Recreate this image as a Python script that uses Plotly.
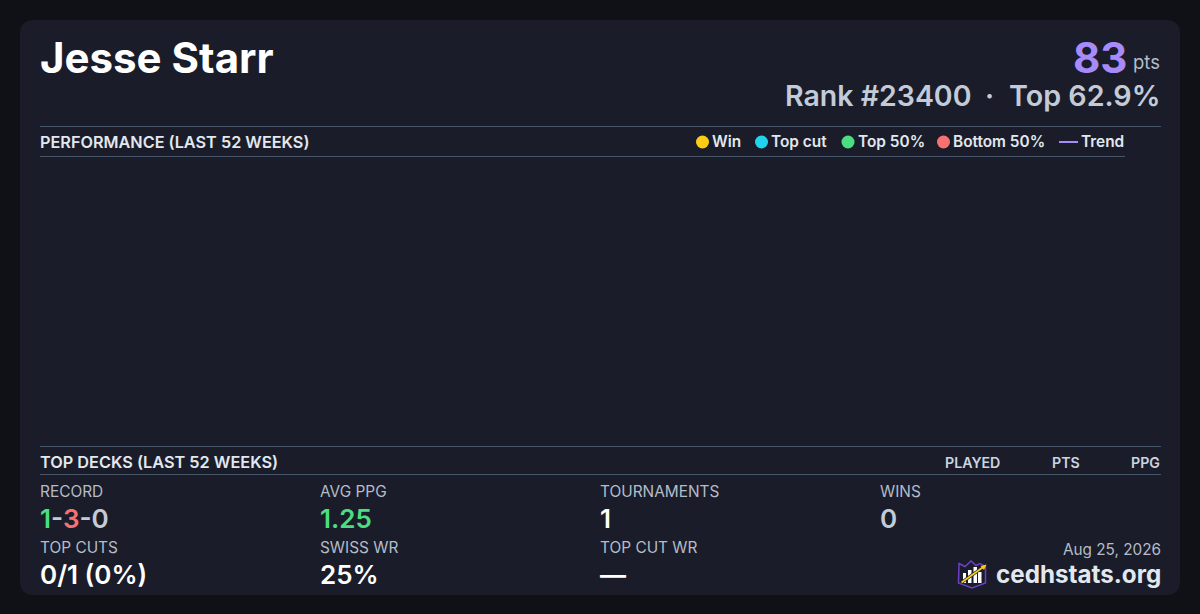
import plotly.graph_objects as go

PLAYER = "Jesse Starr"
POINTS = "83"
RANK_LEFT = "Rank #23400"
RANK_DOT = "·"
RANK_RIGHT = "Top 62.9%"
SECTION_PERF = "PERFORMANCE (LAST 52 WEEKS)"
SECTION_DECKS = "TOP DECKS (LAST 52 WEEKS)"
DECK_COLUMNS = ["PLAYED", "PTS", "PPG"]
DECK_COLUMN_RIGHT = [1000, 1080, 1160]
LEGEND_NAMES = ["Win", "Top cut", "Top 50%", "Bottom 50%"]
LEGEND_COLORS = ["#facc15", "#22d3ee", "#4ade80", "#f87171"]
LEGEND_MARKER_X = [702.5, 761.5, 848, 943.5]
STAT_LABELS = ["RECORD", "AVG PPG", "TOURNAMENTS", "WINS", "TOP CUTS", "SWISS WR", "TOP CUT WR"]
STAT_VALUES = [
    "<span style='color:#4ade80'>1</span>-<span style='color:#f87171'>3</span>-0",
    "1.25", "1", "0", "0/1 (0%)", "25%", "—",
]
STAT_COLORS = ["#c3cbd9", "#4ade80", "#ffffff", "#c3cbd9", "#ffffff", "#ffffff", "#ffffff"]
STAT_X = [40, 320, 600, 880, 40, 320, 600]
STAT_LABEL_Y = [491.5, 491.5, 491.5, 491.5, 547.5, 547.5, 547.5]
STAT_VALUE_Y = [518, 518, 518, 518, 574, 574, 574]
DATE = "Aug 25, 2026"
SITE = "cedhstats.org"

FONT = "Inter"
PAGE = "#0f1117"
CARD = "#1a1d29"
RULE = "#475569"
LABEL = "#b4bcca"
HEAD = "#e2e8f0"
PURPLE = "#a78bfa"

fig = go.Figure()


def text(x, y, s, size, color, weight=400, anchor="left"):
    fig.add_annotation(
        x=x, y=y, xref="x", yref="y", text=s, showarrow=False, xanchor=anchor, yanchor="middle",
        borderpad=0, borderwidth=0,
        font=dict(family=FONT, size=size, color=color, weight=weight),
    )


def hline(x0, x1, y, color=RULE, width=1):
    fig.add_shape(type="line", xref="x", yref="y", x0=x0, x1=x1, y0=y, y1=y,
                  line=dict(color=color, width=width), layer="above")


# Card
r = 14
x0, x1, y0, y1 = 20, 1180, 20, 595
fig.add_shape(
    type="path", xref="x", yref="y", layer="below", line=dict(width=0), fillcolor=CARD,
    path=(f"M{x0+r},{y0} L{x1-r},{y0} Q{x1},{y0} {x1},{y0+r} L{x1},{y1-r} Q{x1},{y1} {x1-r},{y1} "
          f"L{x0+r},{y1} Q{x0},{y1} {x0},{y1-r} L{x0},{y0+r} Q{x0},{y0} {x0+r},{y0} Z"),
)

# Header
text(40, 57.5, PLAYER, 42, "#ffffff", 700)
text(1127, 57.5, POINTS, 42, PURPLE, 700, "right")
text(1160, 62, "pts", 18.5, LABEL, 400, "right")
text(970.5, 95.5, RANK_LEFT, 28.5, "#c3cbd9", 600, "right")
text(989.5, 95.5, RANK_DOT, 28.5, "#c3cbd9", 600, "center")
text(1160.5, 95.5, RANK_RIGHT, 28.7, "#c3cbd9", 600, "right")

# Performance section
hline(40, 1161, 126.5)
hline(40, 1125, 156.5)
text(40, 142, SECTION_PERF, 16.25, HEAD, 600)

fig.add_trace(go.Scatter(
    x=LEGEND_MARKER_X, y=[142] * 4, mode="markers", showlegend=False, hoverinfo="skip",
    marker=dict(size=13, color=LEGEND_COLORS, line=dict(width=0)),
))
for mx, name in zip(LEGEND_MARKER_X, LEGEND_NAMES):
    text(mx + 9.5, 141.5, name, 15.4, HEAD, 600)
fig.add_trace(go.Scatter(
    x=[1059, 1078], y=[142, 142], mode="lines", showlegend=False, hoverinfo="skip",
    line=dict(color=PURPLE, width=2),
))
text(1081, 141.5, "Trend", 15.4, HEAD, 600)

# Decks section
hline(40, 1161, 446.5)
hline(40, 1161, 474.5)
text(40, 462, SECTION_DECKS, 16.3, HEAD, 600)
for c, cx in zip(DECK_COLUMNS, DECK_COLUMN_RIGHT):
    text(cx, 462, c, 14.2, "#cbd5e1", 600, "right")

# Stats
for sx, ly, vy, lab, val, col in zip(STAT_X, STAT_LABEL_Y, STAT_VALUE_Y, STAT_LABELS, STAT_VALUES, STAT_COLORS):
    text(sx, ly, lab, 15.4, LABEL)
    text(sx, vy, val, 26, col, 600)

# Footer
text(1161, 549.5, DATE, 15.3, LABEL, 400, "right")
text(1160.5, 574, SITE, 24.2, HEAD, 700, "right")

# Logo
fig.add_shape(type="path", xref="x", yref="y", layer="above", fillcolor="rgba(0,0,0,0)",
              line=dict(color="#6d3fc4", width=1.5),
              path="M959,563.5 L965,566.5 L971,561 L976,565.5 L980,563.5 L985.5,566.5 L985.5,583 L972,588 L958.5,583 Z")
for bx, bw, by in zip([963, 968, 973.5, 978], [3, 3.5, 3.5, 3.5], [573, 570, 567, 572]):
    fig.add_shape(type="rect", xref="x", yref="y", layer="above", x0=bx, x1=bx + bw, y0=by, y1=583,
                  fillcolor="#ffffff", line=dict(width=0))
fig.add_shape(type="line", xref="x", yref="y", layer="above", x0=961.5, y0=582.5, x1=984, y1=566.5,
              line=dict(color="#1a1d29", width=3.2))
fig.add_shape(type="line", xref="x", yref="y", layer="above", x0=961.5, y0=582.5, x1=984, y1=566.5,
              line=dict(color="#facc15", width=1.7))
fig.add_shape(type="path", xref="x", yref="y", layer="above", fillcolor="#facc15", line=dict(width=0),
              path="M986.5,564.5 L980.5,566 L984,570 Z")

fig.update_layout(
    width=1200, height=614, margin=dict(l=0, r=0, t=0, b=0, pad=0),
    paper_bgcolor=PAGE, plot_bgcolor=PAGE, showlegend=False,
    xaxis=dict(range=[0, 1200], visible=False, fixedrange=True),
    yaxis=dict(range=[614, 0], visible=False, fixedrange=True),
)
fig.write_html(
    "out.html", config=dict(displayModeBar=False),
    post_script="document.body.style.margin='0';document.body.style.background='#0f1117';document.body.style.overflow='hidden';",
)
